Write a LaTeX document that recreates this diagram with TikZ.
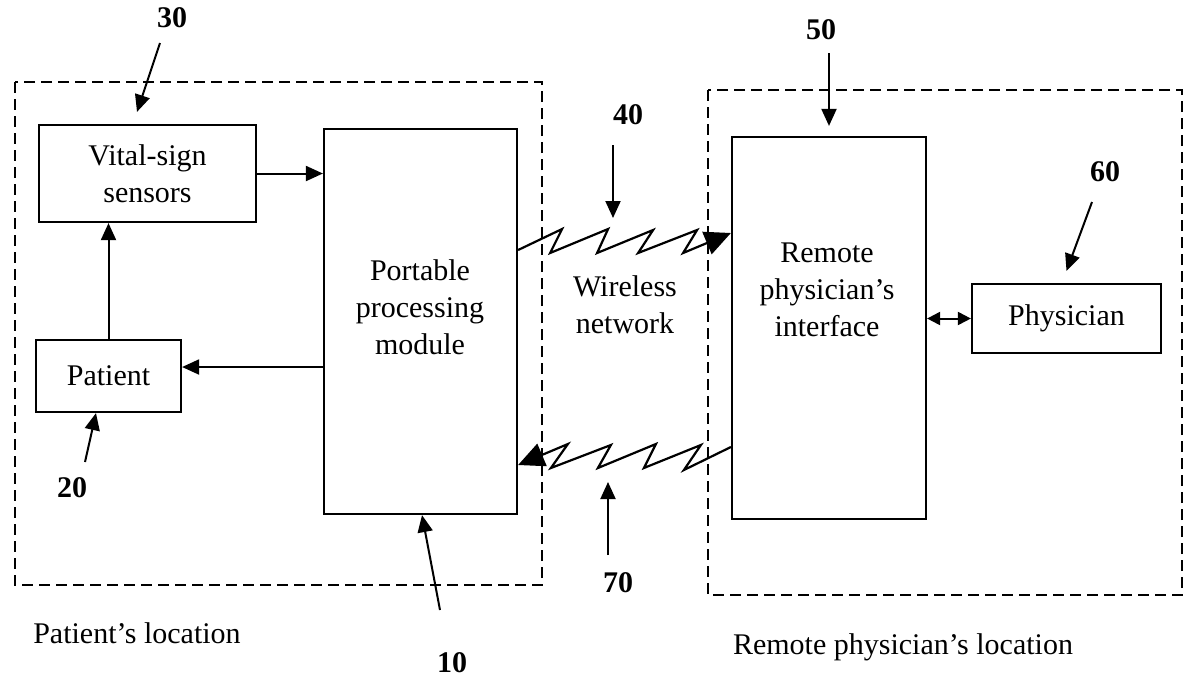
\documentclass[tikz,border=0pt]{standalone}
\usepackage{fontspec}
\setmainfont{Liberation Serif}
\usetikzlibrary{arrows.meta}
\usetikzlibrary{positioning}
\tikzset{
  blk/.style={draw,line width=1.1pt,inner sep=0pt,font=\fontsize{15}{18.5}\selectfont,align=center},
  zone/.style={draw,line width=1.2pt,dash pattern=on 5.5pt off 3pt},
  ptr/.style={line width=1pt,-{Triangle[length=8.5pt,width=7.5pt]}},
  dbl/.style={line width=1pt,{Triangle[length=6.5pt,width=6.5pt]}-{Triangle[length=6.5pt,width=6.5pt]}},
  zig/.style={line width=1.1pt,line join=miter,-{Triangle[length=13pt,width=12pt]}},
  txt/.style={font=\fontsize{15}{18.5}\selectfont,align=center},
  num/.style={font=\fontsize{15}{18}\selectfont\bfseries}
}

\begin{document}
\begin{tikzpicture}[x=0.5pt,y=-0.5pt]
\useasboundingbox (0,0) rectangle (1184,682);

\draw[zone] (15,82) rectangle (542,585);
\draw[zone] (708,90) rectangle (1182,595);

\node[blk,minimum width=108.5pt,minimum height=48.5pt] (vital) at (147.5,173.5) {Vital-sign\\sensors};
\node[blk,minimum width=72.5pt,minimum height=36pt] (patient) at (108.5,376) {Patient};
\node[blk,minimum width=96.5pt,minimum height=192.5pt] (ppm) at (420.5,321.5) {};
\node[blk,minimum width=97pt,minimum height=191pt] (rpi) at (829,328) {};
\node[blk,minimum width=94.5pt,minimum height=34.5pt] (phys) at (1066.5,318.5) {Physician};

\node[txt] (ppmtext) at (420,307) {Portable\\processing\\module};
\node[txt] (rpitext) at (827,290) {Remote\\physician's\\interface};
\node[txt] (wireless) at (625,305) {Wireless\\network};
\node[txt] (ploc) at (137,633) {Patient's location};
\node[txt] (rloc) at (903,647) {Remote physician's location};

\draw[ptr] (vital.east) -- (vital.east -| ppm.west);
\draw[ptr] (patient.north) -- (patient.north |- vital.south);
\coordinate (pin) at ([yshift=4.5pt]patient.east);
\draw[ptr] (pin -| ppm.west) -- (pin);
\draw[dbl] (rpi.east |- phys.west) -- (phys.west);

\draw[zig] ([yshift=35.75pt]ppm.east) -- ++(44,-21) -- ++(-12,24) -- ++(58,-24) -- ++(-11,24)
  -- ++(56,-23) -- ++(-15,23) -- ++(59,-23) -- ++(-14,23) -- ([yshift=47.5pt]rpi.west);
\draw[zig] ([yshift=-59.5pt]rpi.west) -- ++(-47,23) -- ++(17,-25) -- ++(-57,23) -- ++(12,-24)
  -- ++(-58,24) -- ++(13,-23) -- ++(-60,23) -- ++(17,-24) -- ([yshift=-71.75pt]ppm.east);

\node[num] (n30) at (172,18) {30};
\node[num] (n20) at (72,488) {20};
\node[num] (n10) at (452,663) {10};
\node[num] (n40) at (628,115) {40};
\node[num] (n50) at (821,30) {50};
\node[num] (n60) at (1105,172) {60};
\node[num] (n70) at (618,583) {70};

\coordinate (t30) at (160,43);
\coordinate (t20) at (85,462);
\coordinate (t10) at (440,610);
\coordinate (t40) at (613,145);
\coordinate (h40) at (613,218);
\coordinate (t50) at (829,53);
\coordinate (t60) at (1092,202);
\coordinate (t70) at (608,555);
\coordinate (h70) at (608,482);

\draw[ptr] (t30) -- ([xshift=-5.25pt,yshift=6pt]vital.north);
\draw[ptr] (t20) -- ([xshift=-6.25pt]patient.south);
\draw[ptr] (t10) -- ([xshift=0.75pt]ppm.south);
\draw[ptr] (t40) -- (h40);
\draw[ptr] (t50) -- ([yshift=5pt]rpi.north);
\draw[ptr] (t60) -- ([yshift=6pt]phys.north);
\draw[ptr] (t70) -- (h70);

\end{tikzpicture}
\end{document}
